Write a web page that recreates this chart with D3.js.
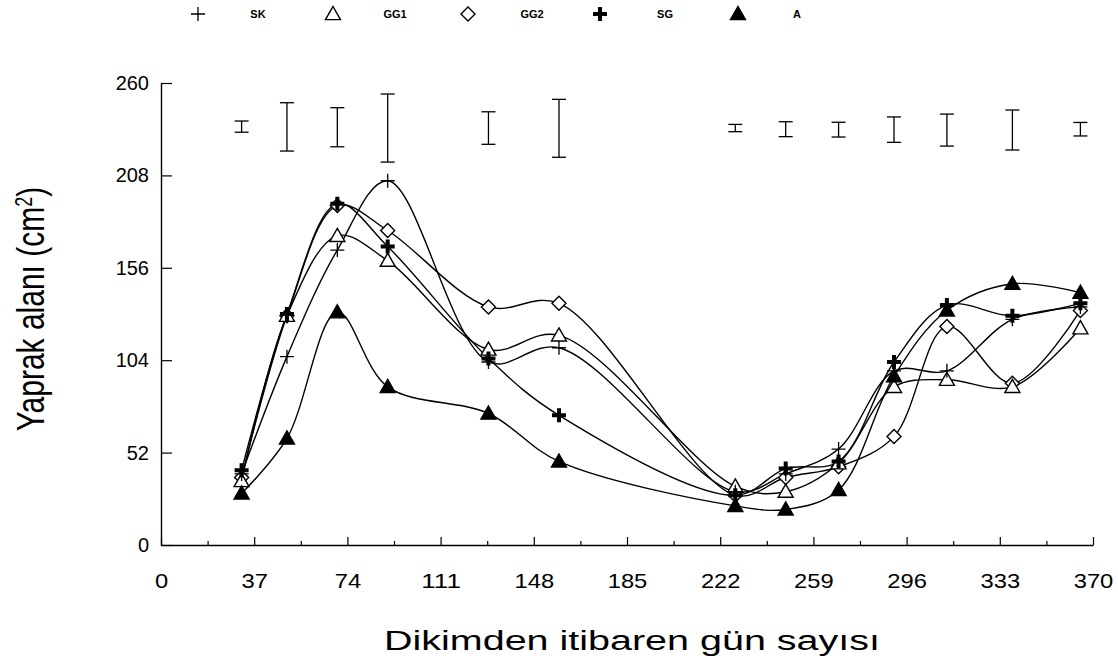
<!DOCTYPE html>
<html>
<head>
<meta charset="utf-8">
<script src="https://cdn.jsdelivr.net/npm/d3@7/dist/d3.min.js"></script>
<style>
  html, body { margin: 0; padding: 0; background: #fff; }
  svg { display: block; }
</style>
</head>
<body>
<svg id="chart" width="1118" height="669"></svg>
<script>
// Sampling days after planting
const days = [32, 50, 70, 90, 130, 158, 228, 248, 269, 291, 312, 338, 365];

// Leaf area (cm²) per treatment
const SK  = [40, 106, 166, 205, 103, 111, 30, 40, 54, 98, 98, 127, 134];
const GG1 = [36, 129, 174, 160, 110, 118, 33, 30, 46, 89, 93, 89, 122];
const GG2 = [38, 129, 191, 177, 134, 136, 28, 38, 44, 61, 123, 91, 132];
const SG  = [42, 130, 192, 168, 105, 73, 28, 43, 47, 103, 135, 129, 136];
const A   = [29, 60, 131, 89, 74, 47, 22, 20, 31, 95, 132, 147, 142];

// Error bar extents (low, high) drawn above each sampling day
const errLow  = [232.3, 221.7, 224.1, 215.5, 225.5, 218.2, 232.6, 229.8, 229.6, 226.6, 224.5, 222.3, 230.2];
const errHigh = [238.6, 248.9, 246.1, 253.8, 243.8, 250.8, 236.7, 238.2, 237.9, 240.9, 242.5, 244.8, 237.8];

// Axis ticks
const xTicks = [0, 37, 74, 111, 148, 185, 222, 259, 296, 333, 370];
const xMinor = [18.5, 55.5, 92.5, 129.5, 166.5, 203.5, 240.5, 277.5, 314.5, 351.5];
const yTicks = [0, 52, 104, 156, 208, 260];

const seriesNames = ["SK", "GG1", "GG2", "SG", "A"];
const seriesData = { SK, GG1, GG2, SG, A };
const markerOf = { SK: "plus", GG1: "triOpen", GG2: "diamond", SG: "plusBold", A: "triFilled" };

const svg = d3.select("#chart");
const x = d3.scaleLinear().domain([0, 370]).range([161, 1093]);
const y = d3.scaleLinear().domain([0, 260]).range([545, 83]);

const FONT = "Arial, 'Liberation Sans', sans-serif";

// Axes
const xAxis = d3.axisBottom(x).tickValues(xTicks).tickSize(-8).tickSizeOuter(0).tickPadding(28);
const gx = svg.append("g").attr("transform", `translate(0,${y(0)})`).call(xAxis);
gx.selectAll("text").attr("font-family", FONT).attr("font-size", 21).attr("fill", "#000")
  .attr("textLength", d => String(d).length * 13.2).attr("lengthAdjust", "spacingAndGlyphs");
gx.select(".domain").attr("stroke", "#000").attr("stroke-width", 1.4);
gx.selectAll(".tick line").attr("stroke", "#000").attr("stroke-width", 1.2);

const xAxisMinor = d3.axisBottom(x).tickValues(xMinor).tickSize(-4).tickSizeOuter(0).tickFormat("");
const gxm = svg.append("g").attr("transform", `translate(0,${y(0)})`).call(xAxisMinor);
gxm.select(".domain").remove();
gxm.selectAll(".tick line").attr("stroke", "#000").attr("stroke-width", 1.2);

const yAxis = d3.axisLeft(y).tickValues(yTicks).tickSize(-11).tickSizeOuter(0).tickPadding(12);
const gy = svg.append("g").attr("transform", `translate(${x(0)},0)`).call(yAxis);
gy.selectAll("text").attr("font-family", FONT).attr("font-size", 20).attr("fill", "#000");
gy.select(".domain").attr("stroke", "#000").attr("stroke-width", 1.4);
gy.selectAll(".tick line").attr("stroke", "#000").attr("stroke-width", 1.2);

// Axis titles
svg.append("text")
  .attr("x", 632).attr("y", 650)
  .attr("text-anchor", "middle")
  .attr("font-family", FONT).attr("font-size", 27)
  .attr("textLength", 496).attr("lengthAdjust", "spacingAndGlyphs")
  .text("Dikimden itibaren gün sayısı");

const yt = svg.append("text")
  .attr("transform", `translate(44,${309}) rotate(-90) scale(1,1.3)`)
  .attr("text-anchor", "middle")
  .attr("font-family", FONT).attr("font-size", 30);
yt.append("tspan").text("Yaprak alanı (cm");
yt.append("tspan").attr("baseline-shift", "super").attr("font-size", 18).text("2");
yt.append("tspan").text(")");

// Error bars
const eb = svg.append("g").attr("stroke", "#000").attr("stroke-width", 1.3).attr("fill", "none");
days.forEach((d, i) => {
  const cx = x(d);
  eb.append("line").attr("x1", cx).attr("x2", cx).attr("y1", y(errLow[i])).attr("y2", y(errHigh[i]));
  eb.append("line").attr("x1", cx - 7).attr("x2", cx + 7).attr("y1", y(errLow[i])).attr("y2", y(errLow[i]));
  eb.append("line").attr("x1", cx - 7).attr("x2", cx + 7).attr("y1", y(errHigh[i])).attr("y2", y(errHigh[i]));
});

// Lines
const line = d3.line()
  .x(d => x(d[0]))
  .y(d => y(d[1]))
  .curve(d3.curveCatmullRom.alpha(0.5));

const lines = svg.append("g");
seriesNames.forEach(name => {
  const pts = days.map((d, i) => [d, seriesData[name][i]]);
  lines.append("path")
    .attr("d", line(pts))
    .attr("fill", "none")
    .attr("stroke", "#000")
    .attr("stroke-width", 1.4);
});

// Marker drawing
function drawMarker(g, type, cx, cy) {
  if (type === "plus") {
    g.append("path").attr("d", `M${cx - 7},${cy} H${cx + 7} M${cx},${cy - 7} V${cy + 7}`)
      .attr("stroke", "#000").attr("stroke-width", 1.3).attr("fill", "none");
  } else if (type === "plusBold") {
    g.append("path").attr("d", `M${cx - 7},${cy} H${cx + 7} M${cx},${cy - 7} V${cy + 7}`)
      .attr("stroke", "#000").attr("stroke-width", 4).attr("fill", "none");
  } else if (type === "triOpen" || type === "triFilled") {
    const s = 7.5;
    g.append("path")
      .attr("d", `M${cx},${cy - s} L${cx + s},${cy + s * 0.75} L${cx - s},${cy + s * 0.75} Z`)
      .attr("fill", type === "triFilled" ? "#000" : "#fff")
      .attr("stroke", "#000").attr("stroke-width", 1.4);
  } else if (type === "diamond") {
    const s = 7;
    g.append("path")
      .attr("d", `M${cx},${cy - s} L${cx + s},${cy} L${cx},${cy + s} L${cx - s},${cy} Z`)
      .attr("fill", "#fff").attr("stroke", "#000").attr("stroke-width", 1.4);
  }
}

const marks = svg.append("g");
["GG2", "GG1", "SK", "SG", "A"].forEach(name => {
  days.forEach((d, i) => drawMarker(marks, markerOf[name], x(d), y(seriesData[name][i])));
});

// Legend
const legX = [198, 333, 468, 600, 738];
const legTextX = [258, 395, 532, 665, 797];
const legend = svg.append("g");
seriesNames.forEach((name, i) => {
  drawMarker(legend, markerOf[name], legX[i], 14);
  legend.append("text")
    .attr("x", legTextX[i]).attr("y", 18)
    .attr("text-anchor", "middle")
    .attr("font-family", FONT).attr("font-size", 11).attr("font-weight", "bold")
    .text(name);
});
</script>
</body>
</html>
